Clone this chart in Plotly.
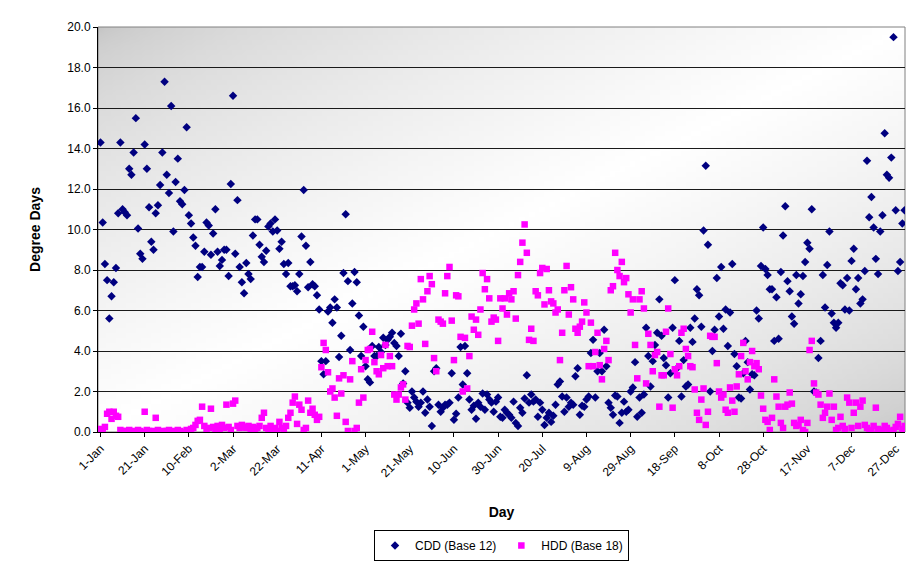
import zlib, struct, base64
import plotly.graph_objects as go

# ---------------- data ----------------
tick_days = [1, 21, 41, 61, 81, 101, 121, 141, 161, 181, 201, 221, 241, 261, 281, 301, 321, 341, 361]
tick_labels = ["1-Jan", "21-Jan", "10-Feb", "2-Mar", "22-Mar", "11-Apr", "1-May", "21-May", "10-Jun",
               "30-Jun", "20-Jul", "9-Aug", "29-Aug", "18-Sep", "8-Oct", "28-Oct", "17-Nov", "7-Dec", "27-Dec"]

cdd = [
    14.3, 10.35, 8.3, 7.5, 5.6, 6.7, 7.4, 8.1, 10.8, 14.3, 11.0, 10.85, 10.7, 13.0, 12.7, 13.8, 15.5, 10.05,
    8.8, 8.55, 14.2, 13.0, 11.1, 9.4, 9.0, 10.8, 11.2, 12.2, 13.8, 17.3, 12.7,
    11.8, 16.1, 9.9, 12.35, 13.5, 11.4, 11.25, 11.95, 15.05, 10.7, 10.3, 9.6, 9.2, 7.65, 8.15, 8.15, 8.9,
    10.35, 10.2, 8.75, 9.8, 11.0, 8.9, 8.2, 8.5, 9.0, 9.0, 7.7, 12.25, 16.6,
    8.8, 11.45, 8.15, 7.4, 6.85, 8.35, 7.8, 7.55, 9.7, 10.5, 10.5, 9.25, 8.65, 8.4, 8.95, 10.15, 10.3, 9.9,
    10.5, 9.95, 9.05, 9.4, 8.3, 7.8, 8.35, 7.2, 7.2, 7.25, 6.95, 7.8, 9.65,
    11.95, 9.2, 7.15, 8.4, 7.3, 7.2, 6.75, 6.05, 3.5, 2.85, 3.5, 5.95, 6.15, 5.4, 6.55, 6.15, 3.7, 4.75,
    7.85, 10.75, 7.45, 4.05, 6.35, 7.9, 7.4, 5.75, 3.75, 5.2, 3.25,
    2.6, 2.45, 4.25, 3.75, 3.75, 4.2, 3.95, 4.65, 4.3, 4.55, 4.7, 4.9, 4.4, 4.25, 3.75, 4.85, 2.4, 3.0,
    1.45, 1.2, 2.0, 1.7, 1.5, 1.25, 1.45, 2.0, 0.95, 1.6, 1.25, 0.3, 3.0,
    3.15, 1.35, 1.0, 1.2, 1.35, 1.35, 1.45, 2.9, 0.6, 0.9, 1.7, 4.2, 2.35, 4.25, 2.9, 1.6, 1.1, 1.3, 0.65,
    1.45, 1.25, 1.9, 1.1, 1.85, 1.6, 1.45, 1.0, 1.5, 1.7, 0.75, 0.7,
    1.1, 0.95, 0.85, 0.7, 1.5, 0.45, 0.3, 1.2, 0.95, 1.65, 2.8, 1.45, 1.85, 1.5, 1.6, 0.75, 1.45, 1.1,
    0.35, 0.7, 0.95, 0.5, 0.8, 1.35, 2.35, 2.5, 1.75, 1.0, 1.7, 1.25, 1.45,
    1.35, 2.75, 3.15, 0.85, 1.3, 1.25, 1.6, 1.75, 3.9, 4.55, 1.7, 3.0, 3.9, 3.0, 5.05, 3.25, 1.45, 1.2,
    0.85, 1.8, 1.75, 0.45, 0.95, 1.5, 1.0, 1.1, 2.0, 2.2, 3.45, 0.75, 1.7,
    0.95, 1.85, 5.15, 3.75, 2.25, 3.5, 4.3, 4.9, 6.55, 4.75, 3.65, 3.3, 1.7, 2.9, 5.15, 7.5, 3.15, 4.5,
    1.75, 3.55, 2.25, 2.35, 5.15, 4.45, 5.6, 7.05, 6.75, 5.2, 9.95, 13.15, 9.25,
    2.0, 4.0, 5.05, 7.6, 5.7, 8.15, 5.1, 6.05, 4.25, 5.9, 8.3, 3.85, 3.25, 1.7, 1.65, 2.9, 4.5, 3.45,
    2.1, 2.85, 2.8, 6.0, 5.6, 8.2, 10.1, 8.05, 7.75, 7.05, 7.05, 4.5, 6.65,
    4.6, 7.9, 9.7, 11.15, 7.45, 6.95, 5.7, 5.35, 7.75, 6.35, 6.8, 7.7, 8.4, 9.35, 9.05, 11.0, 2.0, 1.95,
    3.65, 4.5, 7.75, 6.15, 8.25, 9.9, 5.85, 5.4, 5.15, 5.4, 7.35, 7.25, 6.05,
    7.6, 6.0, 8.45, 9.05, 7.05, 7.6, 6.35, 6.55, 7.95, 13.4, 10.6, 11.6, 10.1, 8.55, 7.8, 9.9, 10.7,
    14.75, 12.7, 12.55, 13.55, 19.5, 10.95, 7.95, 8.4, 10.3, 10.95,
]

hdd = [
    0.15, 0.1, 0.25, 0.9, 1.0, 0.65, 1.0, 0.8, 0.75, 0.1, 0.05, 0.0, 0.05, 0.1, 0.0, 0.05, 0.0, 0.1,
    0.05, 0.0, 1.0, 0.1, 0.05, 0.0, 0.05, 0.7, 0.1, 0.0, 0.05, 0.0,
    0.05, 0.1, 0.0, 0.05, 0.0, 0.1, 0.05, 0.0, 0.0, 0.1, 0.05, 0.15, 0.2, 0.35, 0.55, 0.6, 1.25, 0.3,
    0.15, 0.2, 1.15, 0.25, 0.1, 0.3, 0.15, 0.35, 0.2, 1.35, 0.25, 0.1, 1.4,
    1.55, 0.3, 0.2, 0.35, 0.25, 0.2, 0.3, 0.15, 0.25, 0.1, 0.2, 0.3, 0.7, 0.95, 0.2, 0.15, 0.3, 0.1,
    0.2, 0.05, 0.5, 0.2, 0.1, 0.3, 0.7, 0.95, 1.45, 1.75, 0.4, 1.35, 1.1,
    0.1, 0.2, 1.55, 0.95, 1.15, 0.85, 0.6, 0.75, 3.2, 4.4, 4.05, 2.95, 2.0, 2.15, 1.7, 0.8, 2.65, 1.9,
    2.8, 0.5, 0.05, 2.6, 3.5, 0.05, 0.2, 1.45, 3.1, 1.7, 3.55,
    4.05, 4.1, 4.95, 3.45, 3.0, 2.85, 3.8, 3.15, 4.3, 3.25, 3.75, 3.25, 1.85, 1.6, 1.85, 2.2, 2.35, 1.6,
    4.25, 4.2, 5.25, 6.05, 6.35, 5.35, 7.55, 6.55, 4.35, 6.95, 7.7, 7.3, 3.65, 3.0,
    5.55, 5.45, 5.35, 6.85, 7.7, 8.15, 5.5, 3.55, 6.75, 6.7, 4.7, 2.0, 4.65, 2.15, 3.75, 5.7, 5.05, 5.55,
    4.8, 6.05, 7.85, 7.05, 7.55, 6.6, 5.45, 5.65, 5.55, 4.5, 6.6, 6.1,
    6.6, 5.8, 6.85, 6.55, 6.95, 5.6, 7.75, 8.4, 9.35, 10.25, 8.85, 4.55, 5.1, 4.5, 6.95, 6.75, 7.85, 8.1,
    6.3, 8.05, 7.0, 6.45, 6.35, 5.9, 6.05, 3.55, 4.9, 7.0, 8.2, 5.8, 7.15, 6.55,
    5.1, 4.9, 5.2, 5.45, 6.4, 5.9, 3.25, 5.4, 3.25, 3.95, 4.9, 3.3, 2.6, 4.1, 4.5, 3.55, 7.0, 7.2, 8.85,
    8.0, 7.7, 8.4, 7.4, 7.6, 6.8, 5.9, 6.55, 4.3, 2.65, 6.55, 6.95, 6.1,
    2.4, 4.85, 4.3, 3.0, 3.8, 3.95, 1.25, 2.8, 2.8, 4.95, 6.1, 3.85, 1.2, 3.1, 2.8, 3.25, 4.9, 5.1, 4.1,
    3.75, 3.25, 3.2, 2.1, 0.95, 0.6, 1.6, 2.15, 0.35, 1.0,
    4.75, 4.7, 4.7, 3.4, 2.0, 1.7, 1.85, 1.1, 0.95, 2.2, 1.55, 1.0, 2.25, 2.85, 3.75, 4.4, 3.0, 2.6,
    3.45, 4.0, 3.25, 3.4, 3.1, 1.8, 1.15, 0.6, 0.5, 0.1, 0.7, 2.6, 1.75,
    1.25, 0.45, 0.2, 1.25, 1.35, 1.95, 1.4, 0.45, 0.3, 0.35, 0.6, 0.1, 0.0, 0.45, 4.05, 4.5, 2.4, 1.95,
    1.85, 1.35, 0.7, 0.95, 1.25, 1.9, 0.6, 1.25, 0.1, 0.2, 0.75,
    0.3, 0.15, 1.7, 1.45, 0.2, 0.95, 1.45, 0.3, 1.25, 1.55, 0.35, 0.2, 0.05, 0.1, 0.3, 1.2, 0.15, 0.05,
    0.1, 0.3, 0.2, 0.05, 0.0, 0.1, 0.25, 0.4, 0.75, 0.15, 0.3,
]

days_cdd = list(range(1, len(cdd) + 1))
days_hdd = list(range(1, len(hdd) + 1))


# ---------------- gradient background image (style only) ----------------
def gradient_png(w, h, dark=198, light=255, gamma=0.6):
    rows = []
    for j in range(h):
        v = j / (h - 1)
        row = bytearray()
        for i in range(w):
            u = i / (w - 1)
            t = max(0.0, 1 - abs(u + v - 1))  # 1 on anti-diagonal, 0 at TL/BR corners
            row.append(int(round(dark + (light - dark) * (t ** gamma))))
        rows.append(b"\x00" + bytes(row))
    raw = b"".join(rows)

    def chunk(tag, data):
        return struct.pack(">I", len(data)) + tag + data + struct.pack(">I", zlib.crc32(tag + data) & 0xFFFFFFFF)

    ihdr = struct.pack(">IIBBBBB", w, h, 8, 0, 0, 0, 0)
    png = b"\x89PNG\r\n\x1a\n" + chunk(b"IHDR", ihdr) + chunk(b"IDAT", zlib.compress(raw, 9)) + chunk(b"IEND", b"")
    return "data:image/png;base64," + base64.b64encode(png).decode()


FONT = "Liberation Sans, Arial, sans-serif"

fig = go.Figure()
fig.add_trace(go.Scatter(
    x=days_cdd, y=cdd, mode="markers", name="CDD (Base 12)",
    marker=dict(symbol="diamond", size=6.5, color="#000080", line=dict(width=0)),
))
fig.add_trace(go.Scatter(
    x=days_hdd, y=hdd, mode="markers", name="HDD (Base 18)",
    marker=dict(symbol="square", size=6.5, color="#FF00FF", line=dict(width=0)),
))

fig.add_layout_image(dict(
    source=gradient_png(160, 80), xref="paper", yref="paper", x=0, y=1,
    sizex=1, sizey=1, sizing="stretch", xanchor="left", yanchor="top", layer="below",
))
fig.add_shape(type="rect", xref="paper", yref="paper", x0=0, y0=0, x1=1, y1=1,
              line=dict(color="#808080", width=1), layer="below")

fig.update_layout(
    width=906, height=561,
    margin=dict(l=98, r=1, t=27, b=129),
    paper_bgcolor="white", plot_bgcolor="rgba(0,0,0,0)",
    font=dict(family=FONT, size=12, color="black"),
    showlegend=True,
    legend=dict(
        orientation="h", x=0.5, xanchor="center", yref="container", y=0.0, yanchor="bottom",
        bordercolor="black", borderwidth=1, bgcolor="white",
        font=dict(family=FONT, size=12, color="black"), itemwidth=30, tracegroupgap=0,
    ),
    xaxis=dict(
        range=[-0.13, 365.2], tickmode="array", tickvals=tick_days, ticktext=tick_labels,
        tickangle=-45, ticks="outside", ticklen=4, tickcolor="black",
        showgrid=False, zeroline=False, showline=True, linecolor="black", linewidth=1,
        tickfont=dict(family=FONT, size=12, color="black"),
        title=dict(text="<b>Day</b>", font=dict(family=FONT, size=14, color="black"), standoff=28),
        automargin=False,
    ),
    yaxis=dict(
        range=[0, 20], dtick=2, tickformat=".1f", ticks="outside", ticklen=4, tickcolor="black",
        showgrid=True, gridcolor="#1a1a1a", gridwidth=1, zeroline=False,
        showline=True, linecolor="black", linewidth=1,
        tickfont=dict(family=FONT, size=12, color="black"),
        title=dict(text="<b>Degree Days</b>", font=dict(family=FONT, size=14, color="black"), standoff=23),
        automargin=False,
    ),
)

fig.write_html(
    "out.html",
    config={"displayModeBar": False},
    post_script="document.body.style.margin='0';document.body.style.overflow='hidden';",
)
